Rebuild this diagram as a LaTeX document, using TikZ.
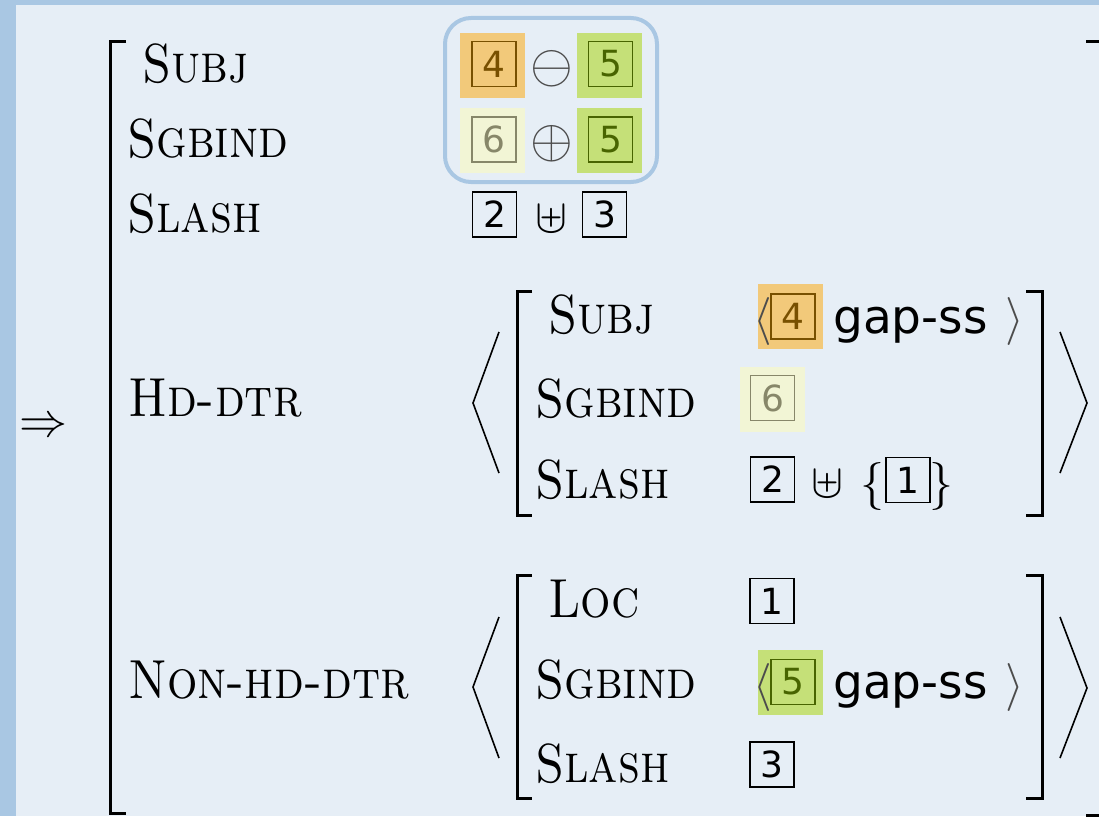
\RequirePackage{fix-cm}
\documentclass[tikz,border=0pt]{standalone}
\usepackage{fontspec}
\newfontfamily\tagfont{DejaVu Sans}
\definecolor{pageBg}{RGB}{230,238,246}
\definecolor{frameBlue}{RGB}{169,199,227}
\definecolor{hlOrange}{RGB}{242,201,122}
\definecolor{hlGreen}{RGB}{197,224,120}
\definecolor{hlYellow}{RGB}{242,245,213}
\definecolor{tagBrown}{RGB}{120,80,0}
\definecolor{tagOlive}{RGB}{72,100,0}
\definecolor{tagGrey}{RGB}{135,135,105}

\begin{document}
\begin{tikzpicture}[x=1pt, y=-1pt,
    featStyle/.style={anchor=base west, inner sep=0pt, xscale=0.87, transform shape, font=\fontsize{55}{60}\selectfont\scshape},
    tagStyle/.style={draw, line width=1.4pt, minimum width=44pt, minimum height=45pt, inner sep=0pt, font=\fontsize{36}{40}\tagfont},
    gapStyle/.style={anchor=base west, inner sep=0pt, font=\fontsize{47}{50}\tagfont},
    opStyle/.style={inner sep=0pt, font=\fontsize{48}{52}\selectfont},
    circStyle/.style={inner sep=0pt, text=black!70, font=\fontsize{55}{60}\selectfont},
    bracketStyle/.style={line width=3pt},
    angleStyle/.style={line width=1.6pt}]
    \useasboundingbox (0,0) rectangle (1099,816);
    \fill[pageBg] (0,0) rectangle (1099,816);
    \fill[frameBlue] (0,0) rectangle (16,816);
    \fill[frameBlue] (0,0) rectangle (1099,5);

    \draw[frameBlue, line width=4pt, rounded corners=26pt] (445,18) rectangle (657,182);
    \fill[hlOrange] (460,33) rectangle (525,98);
    \fill[hlGreen] (577,33) rectangle (642,98);
    \fill[hlYellow] (460,108) rectangle (525,173);
    \fill[hlGreen] (577,108) rectangle (642,173);
    \fill[hlOrange] (758,284) rectangle (823,349);
    \fill[hlYellow] (740,367) rectangle (805,432);
    \fill[hlGreen] (758,650) rectangle (823,715);

    \node[opStyle](implies) at (44, 428) {$\Rightarrow$};

    \node[featStyle](subj) at (142, 82) {Subj};
    \node[featStyle](sgbind) at (127, 157) {Sgbind};
    \node[featStyle](slash) at (127, 232) {Slash};
    \node[featStyle](hd) at (128, 416) {Hd-dtr};
    \node[featStyle](nonhd) at (128, 698) {Non-hd-dtr};

    \node[tagStyle, draw=tagBrown, text=tagBrown](t4a) at (494, 64) {4};
    \node[circStyle](ominus) at (552, 69) {$\ominus$};
    \node[tagStyle, draw=tagOlive, text=tagOlive](t5a) at (610.5, 64) {5};
    \node[tagStyle, draw=tagGrey, text=tagGrey](t6a) at (494, 139.5) {6};
    \node[circStyle](oplus) at (552, 144) {$\oplus$};
    \node[tagStyle, draw=tagOlive, text=tagOlive](t5b) at (610.5, 139.5) {5};
    \node[tagStyle](t2a) at (494.5, 214.5) {2};
    \node[opStyle](uplusa) at (551, 219) {$\uplus$};
    \node[tagStyle](t3a) at (604.5, 214.5) {3};

    \node[featStyle](hdsubj) at (548, 333) {Subj};
    \node[featStyle](hdsgbind) at (535, 417) {Sgbind};
    \node[featStyle](hdslash) at (535, 498) {Slash};
    \node[opStyle, text=black!70](hdla) at (763, 321) {$\langle$};
    \node[tagStyle, draw=tagBrown, text=tagBrown](t4b) at (793, 316.5) {4};
    \node[gapStyle](hdgap) at (833, 333) {gap-ss};
    \node[opStyle, text=black!70](hdra) at (1015, 321) {$\rangle$};
    \node[tagStyle, draw=tagGrey, text=tagGrey](t6b) at (772.5, 398) {6};
    \node[tagStyle](t2b) at (772.5, 479.5) {2};
    \node[opStyle](uplusb) at (827, 484) {$\uplus$};
    \node[opStyle](lbrace) at (872, 486) {$\{$};
    \node[tagStyle](t1a) at (908, 480) {1};
    \node[opStyle](rbrace) at (941, 486) {$\}$};

    \node[featStyle](nhloc) at (548, 617) {Loc};
    \node[featStyle](nhsgbind) at (535, 698) {Sgbind};
    \node[featStyle](nhslash) at (535, 782) {Slash};
    \node[tagStyle](t1b) at (772, 601) {1};
    \node[opStyle, text=black!70](nhla) at (763, 687) {$\langle$};
    \node[tagStyle, draw=tagOlive, text=tagOlive](t5c) at (793, 682) {5};
    \node[gapStyle](nhgap) at (833, 698) {gap-ss};
    \node[opStyle, text=black!70](nhra) at (1015, 687) {$\rangle$};
    \node[tagStyle](t3b) at (772, 764.5) {3};

    \draw[bracketStyle] (126,42) -- (110,42) -- (110,813) -- (126,813);
    \draw[bracketStyle] (1086,42) -- (1104,42) -- (1104,815) -- (1086,815);
    \draw[bracketStyle] (532,291) -- (517,291) -- (517,515) -- (532,515);
    \draw[bracketStyle] (1026,291) -- (1042,291) -- (1042,515) -- (1026,515);
    \draw[bracketStyle] (532,575) -- (517,575) -- (517,798) -- (532,798);
    \draw[bracketStyle] (1026,575) -- (1042,575) -- (1042,798) -- (1026,798);
    \draw[angleStyle] (499,332) -- (473,403) -- (499,473);
    \draw[angleStyle] (1060,332) -- (1087,403) -- (1060,473);
    \draw[angleStyle] (499,617) -- (473,687) -- (499,758);
    \draw[angleStyle] (1060,617) -- (1087,688) -- (1060,758);
\end{tikzpicture}
\end{document}
